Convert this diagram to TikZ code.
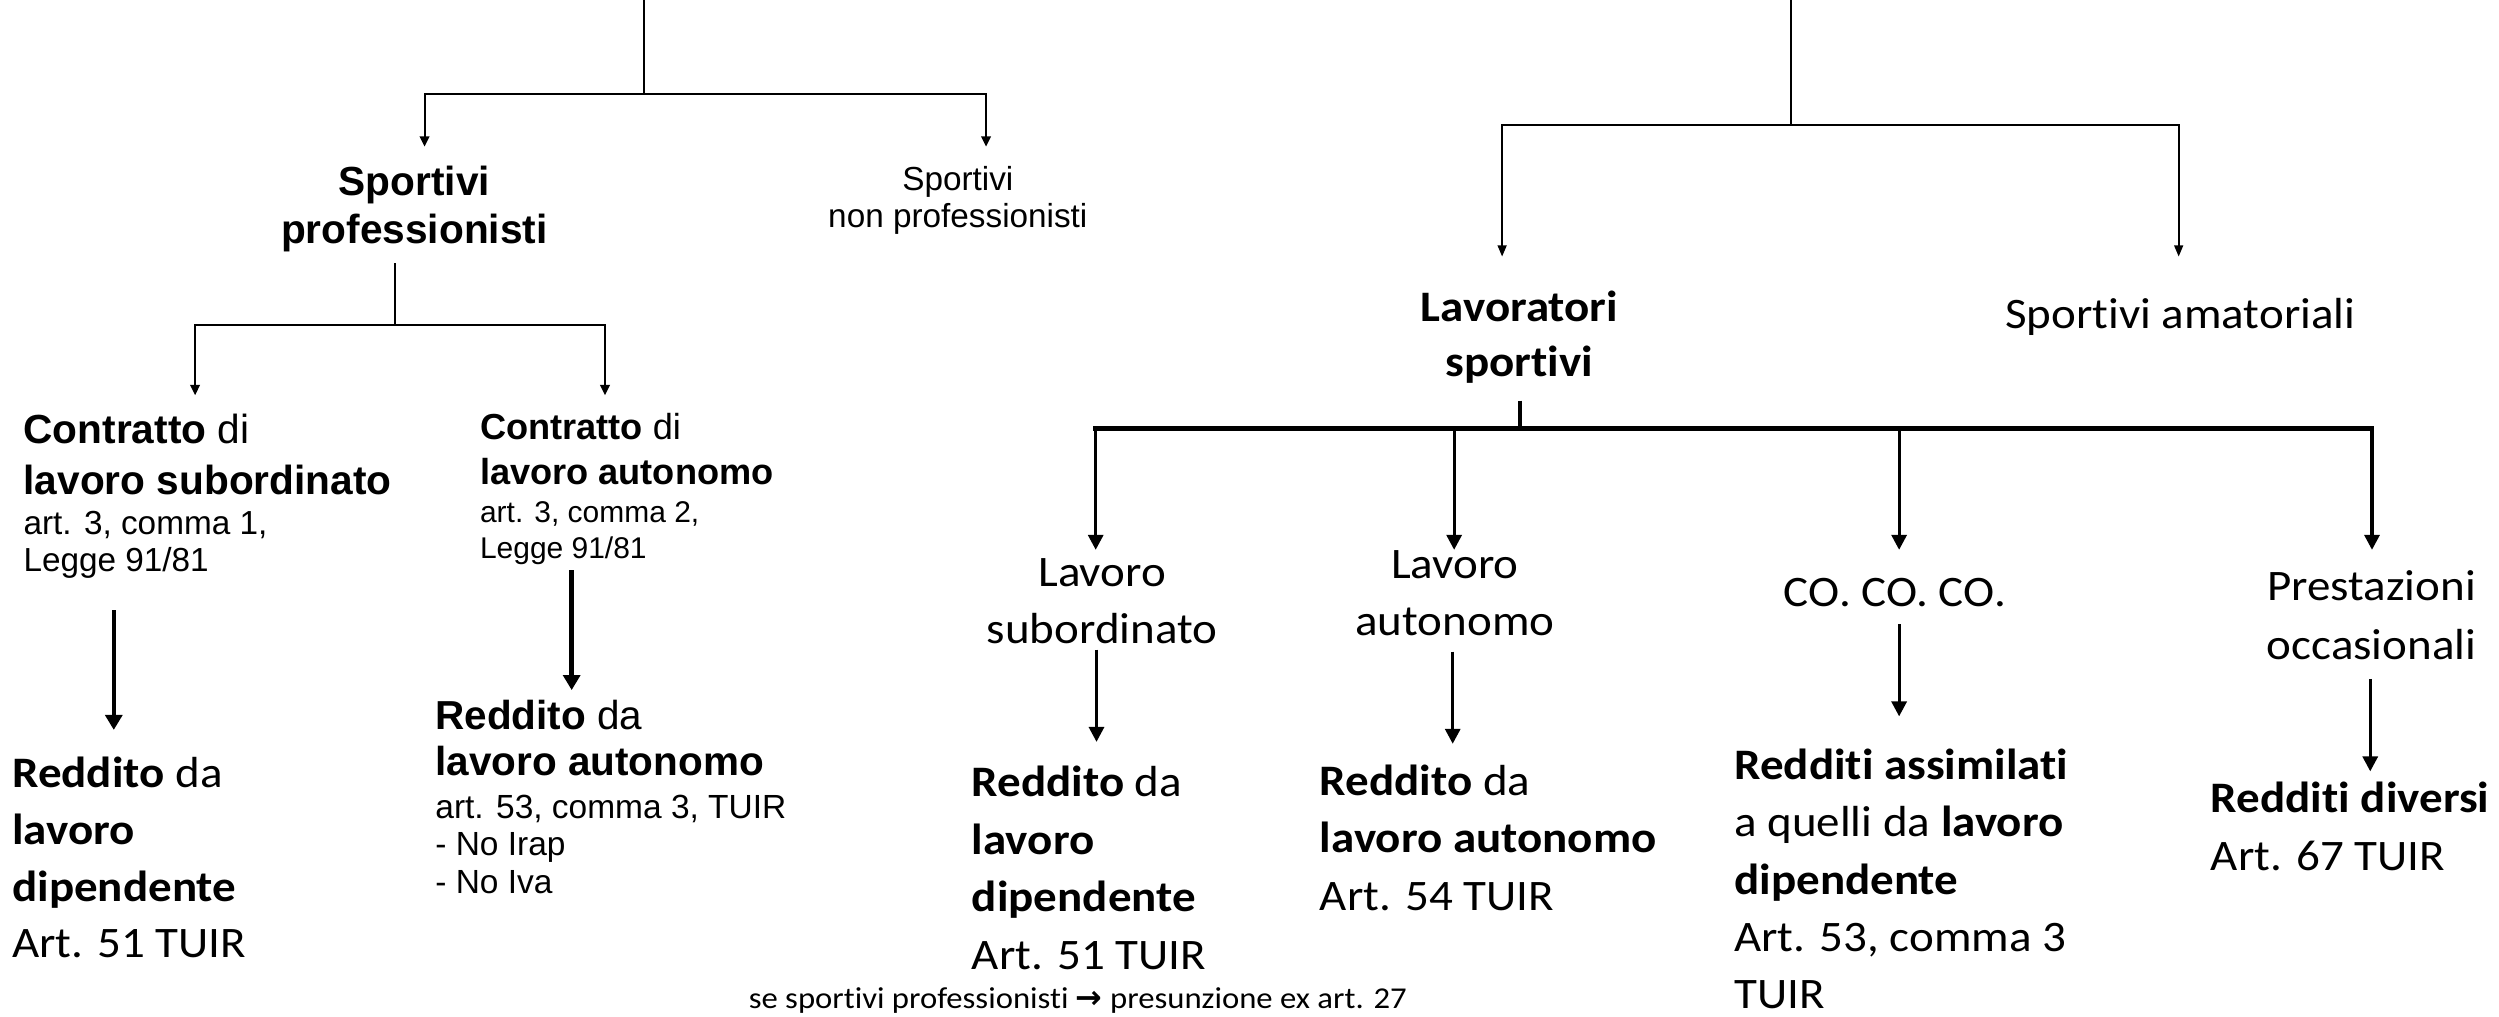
\documentclass[tikz,border=0pt]{standalone}
\usepackage{fontspec}
\usetikzlibrary{arrows.meta}
\newfontfamily\ar{Liberation Sans}
\newfontfamily\ca[FakeStretch=1.08,Ligatures=NoCommon]{Carlito}
\newfontfamily\dv{DejaVu Sans}
\tikzset{
  lt/.style={inner sep=0pt, anchor=base west},
  ct/.style={inner sep=0pt, anchor=base},
  fSP/.style={font=\ar\bfseries\fontsize{25.5}{28}\selectfont},
  fNP/.style={font=\ar\fontsize{20.9}{23}\selectfont},
  fCb/.style={font=\ar\fontsize{25.5}{28}\selectfont},
  fCr/.style={font=\ar\fontsize{20.9}{23}\selectfont},
  fDb/.style={font=\ar\fontsize{22.7}{25}\selectfont},
  fDr/.style={font=\ar\fontsize{18.8}{21}\selectfont},
  fEb/.style={font=\ar\fontsize{25.4}{28}\selectfont},
  fEr/.style={font=\ar\fontsize{21}{23}\selectfont},
  fCal/.style={font=\ca\fontsize{27.3}{36}\selectfont},
  fFoot/.style={font=\ca\fontsize{19}{22}\selectfont},
  thinln/.style={line width=1.3pt},
  thinarr/.style={line width=1.3pt,-{Triangle[length=6.5pt,width=6pt]}},
  rthin/.style={line width=1.2pt},
  rthinarr/.style={line width=1.2pt,-{Triangle[length=7pt,width=5.5pt]}},
  bigarr/.style={line width=2.8pt,-{Triangle[length=9.4pt,width=10.5pt]}},
  medarr/.style={line width=2pt,-{Triangle[length=9.4pt,width=9.4pt]}},
  barln/.style={line width=2.8pt,line cap=rect},
}
\begin{document}
\begin{tikzpicture}[x=1pt,y=-1pt]
\fill[white] (0,0) rectangle (1568,637.5);
\useasboundingbox (0,0) rectangle (1568,637.5);

% ---------------- left tree ----------------
\node[ct,fSP] (sp1) at (260,122.4) {Sportivi};
\node[ct,fSP] (sp2) at (260,153) {professionisti};
\node[ct,fNP] (np1) at (601,119.5) {Sportivi};
\node[ct,fNP] (np2) at (601,143) {non professionisti};

\node[lt,fCb] (c1a) at (14.6,278) {\textbf{Contratto} di};
\node[lt,fCb] (c1b) at (14.6,310) {\textbf{lavoro subordinato}};
\node[lt,fCr] (c1c) at (14.6,335.5) {art. 3, comma 1,};
\node[lt,fCr] (c1d) at (14.6,358.5) {Legge 91/81};

\node[lt,fDb] (c2a) at (301,276) {\textbf{Contratto} di};
\node[lt,fDb] (c2b) at (301,304) {\textbf{lavoro autonomo}};
\node[lt,fDr] (c2c) at (301,328) {art. 3, comma 2,};
\node[lt,fDr] (c2d) at (301,350.5) {Legge 91/81};

\node[lt,fCal] (r1a) at (7.5,493.8) {\textbf{Reddito} da};
\node[lt,fCal] (r1b) at (7.5,529.6) {\textbf{lavoro}};
\node[lt,fCal] (r1c) at (7.5,565.4) {\textbf{dipendente}};
\node[lt,fCal] (r1d) at (7.5,601) {Art. 51 TUIR};

\node[lt,fEb] (r2a) at (273,458) {\textbf{Reddito} da};
\node[lt,fEb] (r2b) at (273,486.5) {\textbf{lavoro autonomo}};
\node[lt,fEr] (r2c) at (273,513.5) {art. 53, comma 3, TUIR};
\node[lt,fEr] (r2d) at (273,537) {- No Irap};
\node[lt,fEr] (r2e) at (273,560.5) {- No Iva};

\node[lt,fFoot] (foot) at (469.6,632.5) {se sportivi professionisti {\dv\bfseries\fontsize{20}{22}\selectfont →} presunzione ex art. 27};

\coordinate (L0) at (404,0);
\coordinate (L1) at (404,59);
\coordinate (Lsp) at (266.4,92);
\coordinate (Lnp) at (618.7,92);
\draw[thinln] (L0) -- (L1);
\draw[thinarr] (L1) -| (Lsp);
\draw[thinarr] (L1) -| (Lnp);

\coordinate (M0) at (247.9,165.2);
\coordinate (M1) at (247.9,204);
\coordinate (Mc1) at (122.4,248);
\coordinate (Mc2) at (379.6,248);
\draw[thinln] (M0) -- (M1);
\draw[thinarr] (M1) -| (Mc1);
\draw[thinarr] (M1) -| (Mc2);

\coordinate (A1s) at (71.4,382.9);
\coordinate (A1e) at (71.4,458);
\draw[bigarr] (A1s) -- (A1e);
\coordinate (A2s) at (358.7,357.7);
\coordinate (A2e) at (358.7,433);
\draw[bigarr] (A2s) -- (A2e);

% ---------------- right tree ----------------
\node[ct,fCal] (ls1) at (953.4,202) {\textbf{Lavoratori}};
\node[ct,fCal] (ls2) at (953.4,236.5) {\textbf{sportivi}};
\node[ct,fCal] (sa) at (1368,206) {Sportivi amatoriali};

\node[ct,fCal] (lv1) at (691.5,368) {Lavoro};
\node[ct,fCal] (lv2) at (691.5,403.9) {subordinato};
\node[ct,fCal] (la1) at (912.9,363.2) {Lavoro};
\node[ct,fCal] (la2) at (912.9,399) {autonomo};
\node[ct,fCal] (co) at (1189,380.5) {CO. CO. CO.};
\node[ct,fCal] (pr1) at (1488,376.8) {Prestazioni};
\node[ct,fCal] (pr2) at (1488,413.7) {occasionali};

\node[lt,fCal] (rda) at (609.6,500) {\textbf{Reddito} da};
\node[lt,fCal] (rdb) at (609.6,536) {\textbf{lavoro}};
\node[lt,fCal] (rdc) at (609.6,572) {\textbf{dipendente}};
\node[lt,fCal] (rdd) at (609.6,608) {Art. 51 TUIR};

\node[lt,fCal] (raa) at (828,498.9) {\textbf{Reddito} da};
\node[lt,fCal] (rab) at (828,534.7) {\textbf{lavoro autonomo}};
\node[lt,fCal] (rac) at (828,571) {Art. 54 TUIR};

\node[lt,fCal] (rsa) at (1088,489) {\textbf{Redditi assimilati}};
\node[lt,fCal] (rsb) at (1088,525) {a quelli da \textbf{lavoro}};
\node[lt,fCal] (rsc) at (1088,561) {\textbf{dipendente}};
\node[lt,fCal] (rsd) at (1088,597) {Art. 53, comma 3};
\node[lt,fCal] (rse) at (1088,632.5) {TUIR};

\node[lt,fCal] (rva) at (1387,510) {\textbf{Redditi diversi}};
\node[lt,fCal] (rvb) at (1387,546) {Art. 67 TUIR};

\coordinate (R0) at (1123.7,0);
\coordinate (R1) at (1123.7,78.5);
\coordinate (Rls) at (942.5,161);
\coordinate (Rsa) at (1367,161);
\draw[rthin] (R0) -- (R1);
\draw[rthinarr] (R1) -| (Rls);
\draw[rthinarr] (R1) -| (Rsa);

\coordinate (S0) at (953.6,251.4);
\coordinate (S1) at (953.6,269);
\coordinate (H1) at (687.5,269);
\coordinate (H2) at (912.4,269);
\coordinate (H3) at (1191.6,269);
\coordinate (H4) at (1488.3,269);
\draw[line width=2.2pt] (S0) -- (S1);
\draw[barln] (H1) -- (H4);
\draw[medarr] (H1) -- (H1 |- 0,345);
\draw[medarr] (H2) -- (H2 |- 0,345);
\draw[medarr] (H3) -- (H3 |- 0,345);
\draw[medarr] (H4) -- (H4 |- 0,345);

\coordinate (B1s) at (688,407.6);  \coordinate (B1e) at (688,465.5);
\coordinate (B2s) at (911.5,408.8); \coordinate (B2e) at (911.5,466.7);
\coordinate (B3s) at (1191.6,391.6); \coordinate (B3e) at (1191.6,449.5);
\coordinate (B4s) at (1487.2,426); \coordinate (B4e) at (1487.2,484);
\draw[medarr] (B1s) -- (B1e);
\draw[medarr] (B2s) -- (B2e);
\draw[medarr] (B3s) -- (B3e);
\draw[medarr] (B4s) -- (B4e);
\end{tikzpicture}
\end{document}
